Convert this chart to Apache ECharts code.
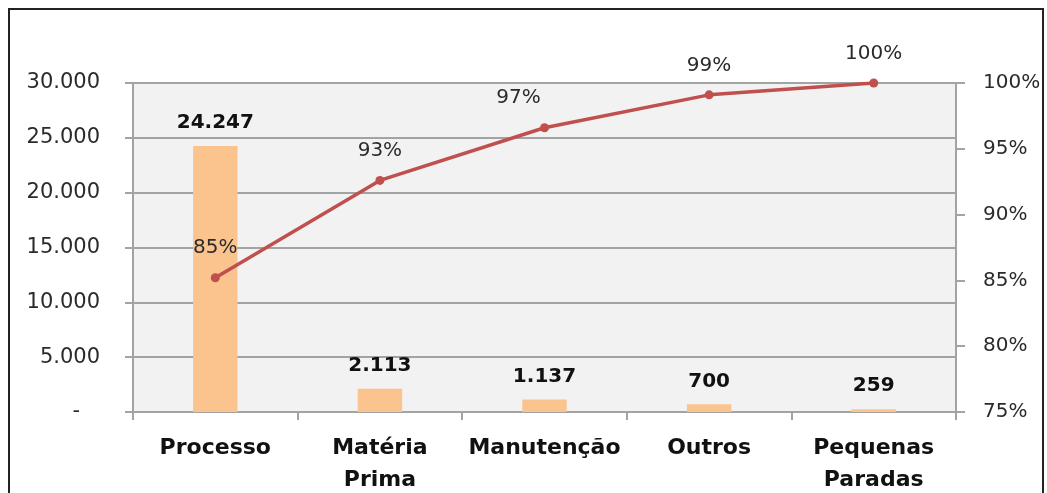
<!DOCTYPE html>
<html>
<head>
<meta charset="utf-8">
<script src="https://cdn.jsdelivr.net/npm/echarts@6/dist/echarts.min.js"></script>
<style>
  html, body { margin: 0; padding: 0; background: #fff; overflow: hidden; }
  #frame { position: absolute; left: 8px; top: 8px; width: 1032px; height: 520px; border: 2px solid #222; }
  #chart { position: absolute; left: 0; top: 0; width: 1047px; height: 493px; }
</style>
</head>
<body>
<div id="frame"></div>
<div id="chart"></div>
<script>
// dados do Pareto
const categorias = ['Processo', 'Matéria\nPrima', 'Manutenção', 'Outros', 'Pequenas\nParadas']
const perdas = [24247, 2113, 1137, 700, 259]
const acumulado = [85.2, 92.6, 96.6, 99.1, 100]
const rotulosPct = ['85%', '93%', '97%', '99%', '100%']

const fonte = 'DejaVu Sans'
const cinza = '#a3a3a3'

function milhar(v) {
  if (v === 0) return '-   '
  return String(v).replace(/\B(?=(\d{3})+(?!\d))/g, '.')
}

const chart = echarts.init(document.getElementById('chart'))
// deslocamento horizontal do rótulo (o 97% fica à esquerda no original)
const deslocX = [0, 0, -26, 0, 0]

chart.setOption({
  animation: false,
  textStyle: { fontFamily: fonte },
  grid: {
    left: 133, right: 91, top: 83, bottom: 81,
    outerBoundsMode: 'none',
    show: true, backgroundColor: '#f2f2f2', borderWidth: 0
  },
  xAxis: {
    type: 'category',
    data: categorias,
    axisLine: { lineStyle: { color: cinza, width: 2 } },
    axisTick: { show: true, length: 8, lineStyle: { color: cinza, width: 2 } },
    axisLabel: {
      color: '#111', fontSize: 22, fontWeight: 'bold', fontFamily: fonte,
      margin: 20, lineHeight: 32, interval: 0
    }
  },
  yAxis: [{
    type: 'value',
    min: 0, max: 30000, interval: 5000,
    axisLine: { show: true, lineStyle: { color: cinza, width: 2 } },
    axisTick: { show: true, length: 8, lineStyle: { color: cinza, width: 2 } },
    splitLine: { lineStyle: { color: cinza, width: 2 } },
    axisLabel: { color: '#2b2b2b', fontSize: 21, fontFamily: fonte, margin: 33, formatter: milhar }
  }, {
    type: 'value',
    min: 75, max: 100, interval: 5,
    position: 'right',
    axisLine: { show: true, lineStyle: { color: cinza, width: 2 } },
    axisTick: { show: true, length: 9, lineStyle: { color: cinza, width: 2 } },
    splitLine: { show: false },
    axisLabel: { color: '#2b2b2b', fontSize: 20, fontFamily: fonte, margin: 27, formatter: '{value}%' }
  }],
  series: [{
    name: 'Perdas',
    type: 'bar',
    data: perdas,
    barWidth: '27%',
    itemStyle: { color: '#fbc48f' },
    label: {
      show: true, position: 'top', distance: 13,
      color: '#111', fontSize: 20, fontWeight: 'bold', fontFamily: fonte,
      formatter: p => milhar(p.value)
    }
  }, {
    name: 'Acumulado',
    type: 'line',
    yAxisIndex: 1,
    data: acumulado.map((v, i) => ({
      value: v,
      label: { offset: [deslocX[i], 0] }
    })),
    symbol: 'circle',
    symbolSize: 9,
    lineStyle: { color: '#c0504d', width: 3.5 },
    itemStyle: { color: '#c0504d' },
    label: {
      show: true, position: 'top', distance: 15,
      color: '#2b2b2b', fontSize: 20, fontFamily: fonte,
      formatter: p => rotulosPct[p.dataIndex]
    }
  }]
})
</script>
</body>
</html>
